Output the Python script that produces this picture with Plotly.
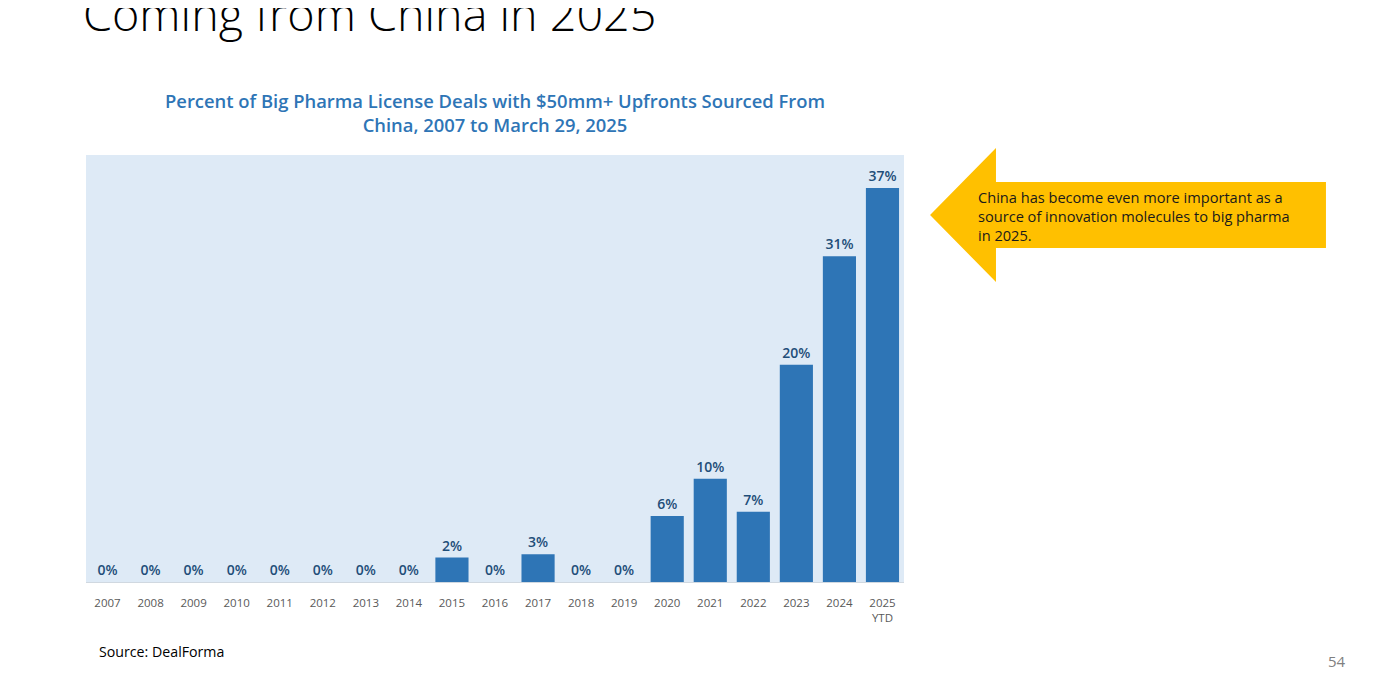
import plotly.graph_objects as go

years = ["2007", "2008", "2009", "2010", "2011", "2012", "2013", "2014", "2015", "2016",
         "2017", "2018", "2019", "2020", "2021", "2022", "2023", "2024", "2025<br>YTD"]
share = [0, 0, 0, 0, 0, 0, 0, 0, 2.3, 0, 2.6, 0, 0, 6.2, 9.7, 6.6, 20.4, 30.6, 37]
labels = ["0%", "0%", "0%", "0%", "0%", "0%", "0%", "0%", "2%", "0%",
          "3%", "0%", "0%", "6%", "10%", "7%", "20%", "31%", "37%"]

W, H = 1400, 693
OFF = 8  # page body margin
FONT = "Open Sans"


def px(x, y):
    """screen pixel -> paper coords"""
    return (x - OFF) / W, 1 - (y - OFF) / H


fig = go.Figure()
fig.add_trace(go.Bar(
    x=years, y=share, text=labels, textposition="outside",
    textfont=dict(family=FONT, size=14, color="#1F4E79", weight=600),
    marker=dict(color="#2E75B6", line=dict(width=0)),
    cliponaxis=False,
    hoverinfo="skip",
))

# callout arrow
pts = [(930, 215), (996, 148), (996, 182), (1326, 182), (1326, 248), (996, 248), (996, 282)]
path = "M " + " L ".join("%.4f,%.4f" % px(x, y) for x, y in pts) + " Z"
fig.add_shape(type="path", xref="paper", yref="paper", path=path,
              fillcolor="#FFC000", line=dict(width=0))

ann = []
x0, y0 = px(976, 216)
ann.append(dict(x=x0, y=y0, xanchor="left", yanchor="middle", align="left",
                text="China has become even more important as a<br>"
                     "source of innovation molecules to big pharma<br>in 2025.",
                font=dict(family=FONT, size=14.6, color="#1a1a1a")))
x0, y0 = px(495, 113)
ann.append(dict(x=x0, y=y0, xanchor="center", yanchor="middle", align="center",
                text="Percent of Big Pharma License Deals with $50mm+ Upfronts Sourced From<br>"
                     "China, 2007 to March 29, 2025",
                font=dict(family=FONT, size=18.4, color="#2E75B6", weight=600)))
x0, y0 = px(81, 47)
ann.append(dict(x=x0, y=y0, xanchor="left", yanchor="bottom", align="left",
                text="Coming from China in 2025",
                font=dict(family=FONT, size=46.7, color="#000000", weight=300)))
x0, y0 = px(97, 651)
ann.append(dict(x=x0, y=y0, xanchor="left", yanchor="middle",
                text="Source: DealForma",
                font=dict(family=FONT, size=14.2, color="#000000")))
x0, y0 = px(1348, 661)
ann.append(dict(x=x0, y=y0, xanchor="right", yanchor="middle",
                text="54", font=dict(family=FONT, size=15, color="#808080")))
for a in ann:
    a.update(xref="paper", yref="paper", showarrow=False)

fig.update_layout(
    width=W, height=H,
    margin=dict(l=0, r=0, t=0, b=0),
    paper_bgcolor="white",
    plot_bgcolor="#DEEAF6",
    bargap=0.23,
    showlegend=False,
    annotations=ann,
    xaxis=dict(domain=[(86 - OFF) / W, (904 - OFF) / W],
               tickfont=dict(family=FONT, size=11.5, color="#595959"),
               ticklabelstandoff=10,
               showline=True, linecolor="#D0D8E0", linewidth=1, ticks="", fixedrange=True),
    yaxis=dict(domain=[1 - (582 - OFF) / H, 1 - (155 - OFF) / H], range=[0, 40.1],
               visible=False, showgrid=False, fixedrange=True),
)

fig.write_html("out.html")
